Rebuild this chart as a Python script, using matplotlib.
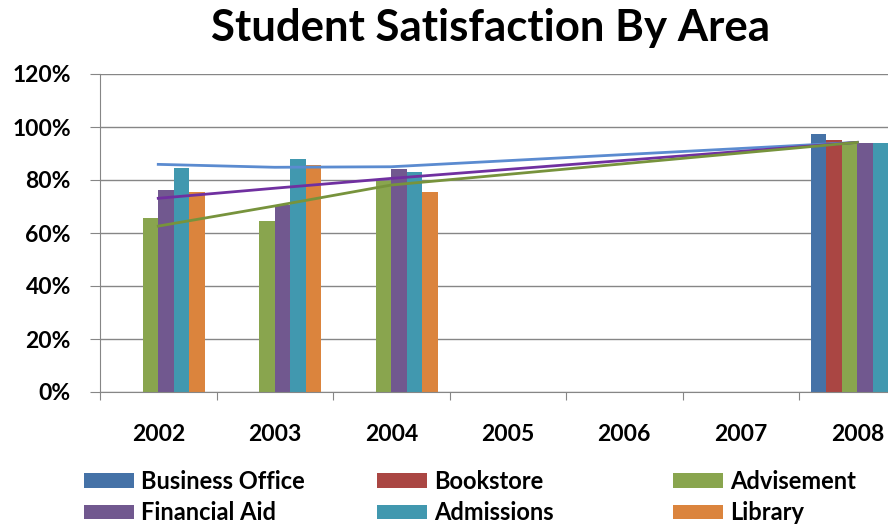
import numpy as np
import matplotlib.pyplot as plt

years = ['2002', '2003', '2004', '2005', '2006', '2007', '2008']
series = ['Business Office', 'Bookstore', 'Advisement', 'Financial Aid', 'Admissions', 'Library']
nan = np.nan
business_office = [nan, nan, nan, nan, nan, nan, 97.2]
bookstore = [nan, nan, nan, nan, nan, nan, 95.2]
advisement = [65.5, 64.6, 79.7, nan, nan, nan, 94.1]
financial_aid = [76.2, 70.6, 84.2, nan, nan, nan, 93.8]
admissions = [84.6, 87.9, 83.1, nan, nan, nan, 93.8]
library = [75.4, 85.7, 75.4, nan, nan, nan, 94.0]

# connecting lines (only drawn where there is data)
line_years = ['2002', '2003', '2004', '2008']
bo_line = [85.9, 84.8, 85.0, 94.2]
fa_line = [73.1, 76.9, 80.6, 94.2]
adv_line = [62.6, 70.2, 78.1, 94.2]

bar_cols = ['#4572A7', '#AA4643', '#89A54E', '#71588F', '#4198AF', '#DB843D']
plt.rcParams['font.family'] = ['Lato', 'DejaVu Sans']

fig = plt.figure(figsize=(8.88, 5.26), dpi=100)
ax = fig.add_axes([100/888, 134/526, 815.5/888, 318/526])

data = [business_office, bookstore, advisement, financial_aid, admissions, library]
x = np.arange(len(years))
w = 1/7.5
bars = []
for i in range(len(series)):
  b = ax.bar(x + (i - 2.5)*w, data[i], width=w, color=bar_cols[i], label=series[i], zorder=2)
  bars.append(b)

lx = [years.index(y) for y in line_years]
ax.plot(lx, bo_line, color='#5B8BD0', linewidth=2, zorder=3)
ax.plot(lx, fa_line, color='#7030A0', linewidth=2, zorder=3)
ax.plot(lx, adv_line, color='#77933C', linewidth=2, zorder=3)

ax.set_ylim(0, 120)
ax.set_xlim(-0.5, 6.5)
ax.set_yticks(np.arange(0, 121, 20))
ax.set_yticklabels(['%d%%' % v for v in range(0, 121, 20)], fontsize=16.5, fontweight='bold')
ax.set_xticks(np.arange(-0.5, 7, 1))
ax.set_xticklabels([])
ax.set_xticks(x, minor=True)
ax.set_xticklabels(years, minor=True, fontsize=16.5, fontweight='bold')
ax.tick_params(axis='x', which='minor', length=0, pad=23)
ax.tick_params(axis='x', which='major', length=6, color='#868686', direction='out')
ax.tick_params(axis='y', length=7, color='#868686', pad=14)
ax.grid(axis='y', color='#868686', linewidth=1, zorder=0)
ax.set_axisbelow(True)
for s in ['top', 'right']:
  ax.spines[s].set_visible(False)
for s in ['left', 'bottom']:
  ax.spines[s].set_color('#868686')

fig.text(0.552, 0.946, 'Student Satisfaction By Area', ha='center', va='center',
         fontsize=31.5, fontweight='bold')

# legend laid out row by row, one small legend per column
col_x = [75/888, 368/888, 664/888]
for c in range(3):
  idx = [c, c + 3]
  leg = fig.legend([bars[k] for k in idx], [series[k] for k in idx],
                   loc='center left', bbox_to_anchor=(col_x[c], 0.055), frameon=False,
                   fontsize=17, handlelength=2.1, handleheight=0.55, handletextpad=0.3,
                   labelspacing=0.35, borderaxespad=0)
  for t in leg.get_texts():
    t.set_fontweight('bold')

plt.savefig('out.png', dpi=100)
